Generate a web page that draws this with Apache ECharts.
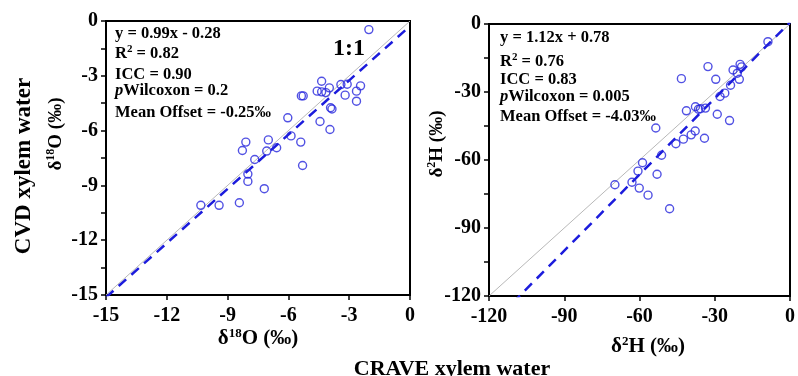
<!DOCTYPE html>
<html>
<head>
<meta charset="utf-8">
<script src="https://cdn.jsdelivr.net/npm/echarts@6/dist/echarts.min.js"></script>
<style>
  html, body { margin: 0; padding: 0; background: #fff; }
  #chart { width: 798px; height: 376px; }
</style>
</head>
<body>
<div id="chart"></div>
<script>
// δ18O pairs (‰): CRAVE extraction vs CVD extraction
const oxyCrave = [-2.03, -4.36, -3.41, -3.10, -2.44, -4.58, -4.36, -4.15, -3.98, -2.64, -3.20, -2.64,
  -5.36, -5.27, -3.92, -3.85, -6.03, -4.44, -3.95, -5.87, -5.39, -6.99, -8.10, -8.27, -6.58,
  -7.07, -7.66, -5.30, -8.00, -8.00, -7.19, -10.32, -9.42, -8.42];
const oxyCvd = [-0.47, -3.30, -3.48, -3.46, -3.55, -3.84, -3.88, -3.92, -3.66, -3.84, -4.06, -4.39,
  -4.10, -4.10, -4.75, -4.82, -5.30, -5.50, -5.94, -6.29, -6.63, -6.51, -6.63, -7.09, -6.94,
  -7.12, -7.58, -7.91, -8.38, -8.78, -9.18, -10.09, -10.09, -9.95];

// δ2H pairs (‰): CRAVE extraction vs CVD extraction
const hydCrave = [-8.8, -32.7, -43.3, -29.6, -22.7, -19.9, -19.3, -21.0, -20.2, -23.7, -26.0, -27.9,
  -29.0, -24.1, -41.3, -37.7, -36.5, -35.7, -33.7, -53.5, -45.5, -42.5, -39.4, -37.8, -34.1,
  -51.2, -58.8, -60.6, -53.0, -69.8, -63.0, -60.1, -56.6, -48.0];
const hydCvd = [-7.8, -18.8, -24.1, -24.4, -20.3, -17.8, -18.9, -21.7, -24.4, -27.0, -30.5, -32.0,
  -39.8, -42.6, -38.3, -36.5, -37.6, -37.4, -37.1, -45.9, -52.8, -50.8, -48.9, -47.2, -50.4,
  -57.9, -61.2, -64.9, -66.3, -70.9, -69.8, -72.4, -75.5, -81.5];

// Fitted regressions (slope, intercept) and axis ranges [min, max, step]
const oxyFit = [0.99, -0.28];
const hydFit = [1.12, 0.78];
const oxyRange = [-15, 0, 3];
const hydRange = [-120, 0, 30];

const oxyStats = ['y = 0.99x - 0.28', '0.82', '0.90', '0.2', '-0.25‰'];
const hydStats = ['y = 1.12x + 0.78', '0.76', '0.83', '0.005', '-4.03‰'];

const FONT = '"Liberation Serif", "Times New Roman", serif';
const BLUE = '#2626dc';
const LINE_BLUE = '#1c1cdc';

function pairs(xs, ys) { return xs.map((x, i) => [x, ys[i]]); }
function fitLine(fit, range) {
  return [[range[0], fit[0] * range[0] + fit[1]], [range[1], fit[0] * range[1] + fit[1]]];
}

function supRich(size) {
  return {
    t: { fontFamily: FONT, fontWeight: 'bold', fontSize: size, color: '#000', lineHeight: size + 3 },
    s: { fontFamily: FONT, fontWeight: 'bold', fontSize: Math.round(size * 0.62), color: '#000', verticalAlign: 'top', lineHeight: size + 3 }
  };
}

const tickLabel = { color: '#000', fontFamily: FONT, fontWeight: 'bold', fontSize: 20 };

function xAxisCfg(grid, range) {
  return {
    type: 'value', gridIndex: grid, min: range[0], max: range[1], interval: range[2],
    axisLine: { show: true, onZero: false, lineStyle: { color: '#000', width: 2 } },
    axisTick: { show: true, inside: false, length: 5, lineStyle: { color: '#000', width: 1.5 } },
    axisLabel: Object.assign({ margin: 11 }, tickLabel),
    splitLine: { show: false }
  };
}
function yAxisCfg(grid, range) {
  return {
    type: 'value', gridIndex: grid, min: range[0], max: range[1], interval: range[2],
    axisLine: { show: true, onZero: false, lineStyle: { color: '#000', width: 2 } },
    axisTick: { show: true, inside: false, length: 5, lineStyle: { color: '#000', width: 1.5 } },
    minorTick: { show: true, splitNumber: 2, length: 5, lineStyle: { color: '#000', width: 1.5 } },
    axisLabel: Object.assign({ margin: 8 }, tickLabel),
    splitLine: { show: false }
  };
}

function statBlock(x, ys, stats) {
  const rich = {
    t: { fontFamily: FONT, fontWeight: 'bold', fontSize: 16.5, color: '#000', lineHeight: 19 },
    i: { fontFamily: FONT, fontWeight: 'bold', fontStyle: 'italic', fontSize: 16.5, color: '#000', lineHeight: 19 },
    s: { fontFamily: FONT, fontWeight: 'bold', fontSize: 11, color: '#000', verticalAlign: 'top', lineHeight: 19 }
  };
  const lines = [
    '{t|' + stats[0] + '}',
    '{t|R}{s|2}{t| = ' + stats[1] + '}',
    '{t|ICC = ' + stats[2] + '}',
    '{i|p}{t|Wilcoxon = ' + stats[3] + '}',
    '{t|Mean Offset = ' + stats[4] + '}'
  ];
  return lines.map((txt, k) => ({
    type: 'text', left: x, top: ys[k] - 10, z: 10,
    style: { text: txt, rich: rich, fill: '#000' }
  }));
}

function title(text, x, y, size, rotated) {
  return {
    type: 'text', x: x, y: y, rotation: rotated ? Math.PI / 2 : 0, z: 10,
    style: { text: text, rich: supRich(size), align: 'center', verticalAlign: 'middle', fill: '#000' }
  };
}

const chart = echarts.init(document.getElementById('chart'), null, { renderer: 'canvas' });

const option = {
  backgroundColor: '#fff',
  animation: false,
  grid: [
    { left: 106, top: 21, width: 304, height: 274, show: true, borderColor: '#000', borderWidth: 2, backgroundColor: 'transparent' },
    { left: 489, top: 24, width: 306, height: 272, show: true, borderColor: '#000', borderWidth: 2, backgroundColor: 'transparent' }
  ],
  xAxis: [xAxisCfg(0, oxyRange), xAxisCfg(1, hydRange)],
  yAxis: [yAxisCfg(0, oxyRange), yAxisCfg(1, hydRange)],
  series: [
    { type: 'line', xAxisIndex: 0, yAxisIndex: 0, data: [[oxyRange[0], oxyRange[0]], [oxyRange[1], oxyRange[1]]],
      showSymbol: false, lineStyle: { color: '#b8b8b8', width: 1 }, z: 1 },
    { type: 'line', xAxisIndex: 0, yAxisIndex: 0, data: fitLine(oxyFit, oxyRange), clip: true,
      showSymbol: false, lineStyle: { color: LINE_BLUE, width: 2.5, type: [10, 7] }, z: 2 },
    { type: 'scatter', xAxisIndex: 0, yAxisIndex: 0, data: pairs(oxyCrave, oxyCvd), symbol: 'circle', symbolSize: 8,
      itemStyle: { color: 'rgba(0,0,0,0)', borderColor: BLUE, borderWidth: 1.4 }, z: 3 },
    { type: 'line', xAxisIndex: 1, yAxisIndex: 1, data: [[hydRange[0], hydRange[0]], [hydRange[1], hydRange[1]]],
      showSymbol: false, lineStyle: { color: '#b8b8b8', width: 1 }, z: 1 },
    { type: 'line', xAxisIndex: 1, yAxisIndex: 1, data: fitLine(hydFit, hydRange), clip: true,
      showSymbol: false, lineStyle: { color: LINE_BLUE, width: 2.5, type: [10, 7] }, z: 2 },
    { type: 'scatter', xAxisIndex: 1, yAxisIndex: 1, data: pairs(hydCrave, hydCvd), symbol: 'circle', symbolSize: 8,
      itemStyle: { color: 'rgba(0,0,0,0)', borderColor: BLUE, borderWidth: 1.4 }, z: 3 }
  ],
  graphic: [
    ...statBlock(115, [35, 54, 76, 92, 114], oxyStats),
    ...statBlock(500, [39, 62, 81, 98, 118], hydStats),
    { type: 'text', left: 333, top: 37, z: 10,
      style: { text: '1:1', fill: '#000', font: 'bold 24px ' + FONT } },
    // panel axis titles
    title('{t|δ}{s|18}{t|O (‰)}', 258, 339, 21, false),
    title('{t|δ}{s|2}{t|H (‰)}', 648, 347, 21, false),
    title('{t|δ}{s|18}{t|O (‰)}', 56, 134, 19, true),
    title('{t|δ}{s|2}{t|H (‰)}', 437, 144, 19, true),
    // shared titles
    { type: 'text', x: 24, y: 166, rotation: Math.PI / 2, z: 10,
      style: { text: 'CVD xylem water', fill: '#000', font: 'bold 23px ' + FONT, align: 'center', verticalAlign: 'middle' } },
    { type: 'text', x: 452, y: 369, z: 10,
      style: { text: 'CRAVE xylem water', fill: '#000', font: 'bold 22px ' + FONT, align: 'center', verticalAlign: 'middle' } }
  ]
};

chart.setOption(option);
</script>
</body>
</html>
